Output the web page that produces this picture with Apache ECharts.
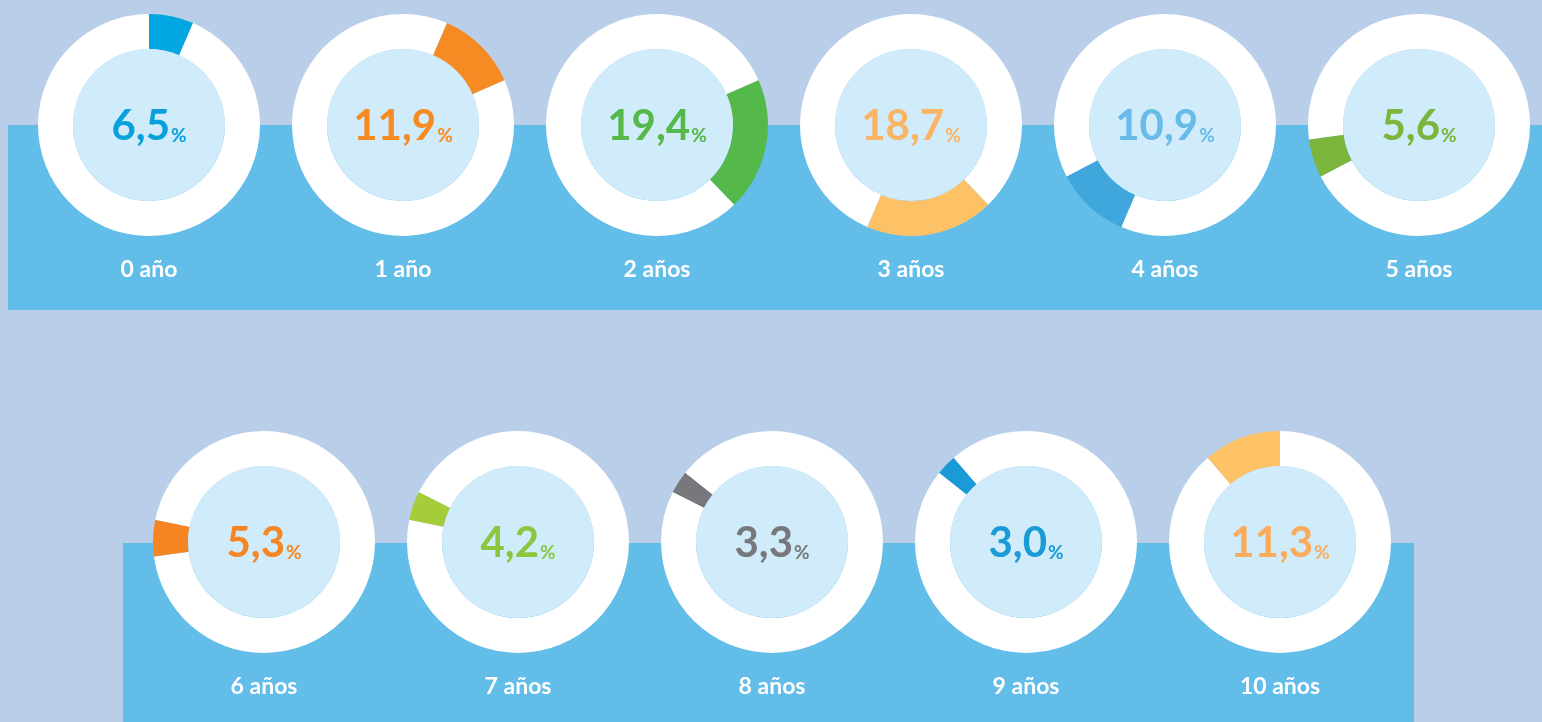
<!DOCTYPE html>
<html>
<head>
<meta charset="utf-8">
<title>Distribución por edad</title>
<script src="https://cdn.jsdelivr.net/npm/echarts@6/dist/echarts.min.js"></script>
<style>
  html, body { margin: 0; padding: 0; background: #b9cfe9; }
  #chart { width: 1542px; height: 722px; }
</style>
</head>
<body>
<div id="chart"></div>
<script>
// Age groups and their share (%)
var ages = ['0 año', '1 año', '2 años', '3 años', '4 años', '5 años',
            '6 años', '7 años', '8 años', '9 años', '10 años'];
var shares = [6.5, 11.9, 19.4, 18.7, 10.9, 5.6, 5.3, 4.2, 3.3, 3.0, 11.3];
// Ring segment colour and centre-number colour for each group
var segColors = ['#02a6e0', '#f68a23', '#54b94a', '#fdc265', '#3fa7dc', '#7bb53c',
                 '#f68623', '#a5cd3a', '#77787b', '#1a9ad7', '#fdc266'];
var textColors = ['#0aa0dc', '#f68a23', '#54b94a', '#fab464', '#68bae8', '#7bb53c',
                  '#f68623', '#8cc63f', '#77787b', '#1a9ad7', '#f9ad5c'];

// Layout of the two rows of rings
var topRowX = [149, 403, 657, 911, 1165, 1419];
var bottomRowX = [264, 518, 772, 1026, 1280];
var topRowY = 125, bottomRowY = 542;
var innerR = 76, outerR = 111;

var total = shares.reduce(function (a, b) { return a + b; }, 0);
var fontFamily = 'Lato, "Open Sans", sans-serif';

function fmt(v) { return v.toFixed(1).replace('.', ','); }

var series = [];
var graphics = [
  { type: 'rect', shape: { x: 8, y: 125, width: 1534, height: 185 }, style: { fill: '#63bde9' }, z: -10 },
  { type: 'rect', shape: { x: 123, y: 543, width: 1291, height: 179 }, style: { fill: '#63bde9' }, z: -10 }
];

var before = 0;
ages.forEach(function (age, i) {
  var cx = i < 6 ? topRowX[i] : bottomRowX[i - 6];
  var cy = i < 6 ? topRowY : bottomRowY;
  var v = shares[i];
  var rest = Math.max(total - before - v, 0);

  // White ring with the group's segment placed after the previous groups
  series.push({
    type: 'pie',
    center: [cx, cy],
    radius: [innerR, outerR],
    startAngle: 90,
    clockwise: true,
    silent: true,
    animation: false,
    label: { show: false },
    labelLine: { show: false },
    itemStyle: { borderWidth: 0 },
    data: [
      { value: before, name: 'prev', itemStyle: { color: '#ffffff' } },
      { value: v, name: age, itemStyle: { color: segColors[i] } },
      { value: rest, name: 'rest', itemStyle: { color: '#ffffff' } }
    ]
  });

  // Light inner disc carrying the percentage
  series.push({
    type: 'pie',
    center: [cx, cy],
    radius: [0, innerR],
    silent: true,
    animation: false,
    labelLine: { show: false },
    itemStyle: { color: '#d0ebf9', borderWidth: 0 },
    label: {
      show: true,
      position: 'center',
      formatter: function () { return '{v|' + fmt(v) + '}{p|%}'; },
      rich: {
        v: { fontFamily: fontFamily, fontWeight: 'bold', fontSize: 42, color: textColors[i], verticalAlign: 'bottom', lineHeight: 44 },
        p: { fontFamily: fontFamily, fontWeight: 'bold', fontSize: 19, color: textColors[i], verticalAlign: 'bottom', lineHeight: 44, padding: [0, 0, 2, 1] }
      }
    },
    data: [{ value: 1, name: age }]
  });

  // Age caption under the ring
  graphics.push({
    type: 'text',
    x: cx,
    y: cy + 145,
    style: {
      text: age,
      textAlign: 'center',
      textVerticalAlign: 'middle',
      fill: '#ffffff',
      font: 'bold 23px ' + fontFamily
    }
  });

  before += v;
});

var chart = echarts.init(document.getElementById('chart'), null, { renderer: 'canvas' });
chart.setOption({
  backgroundColor: '#b9cfe9',
  animation: false,
  graphic: graphics,
  series: series
});
</script>
</body>
</html>
